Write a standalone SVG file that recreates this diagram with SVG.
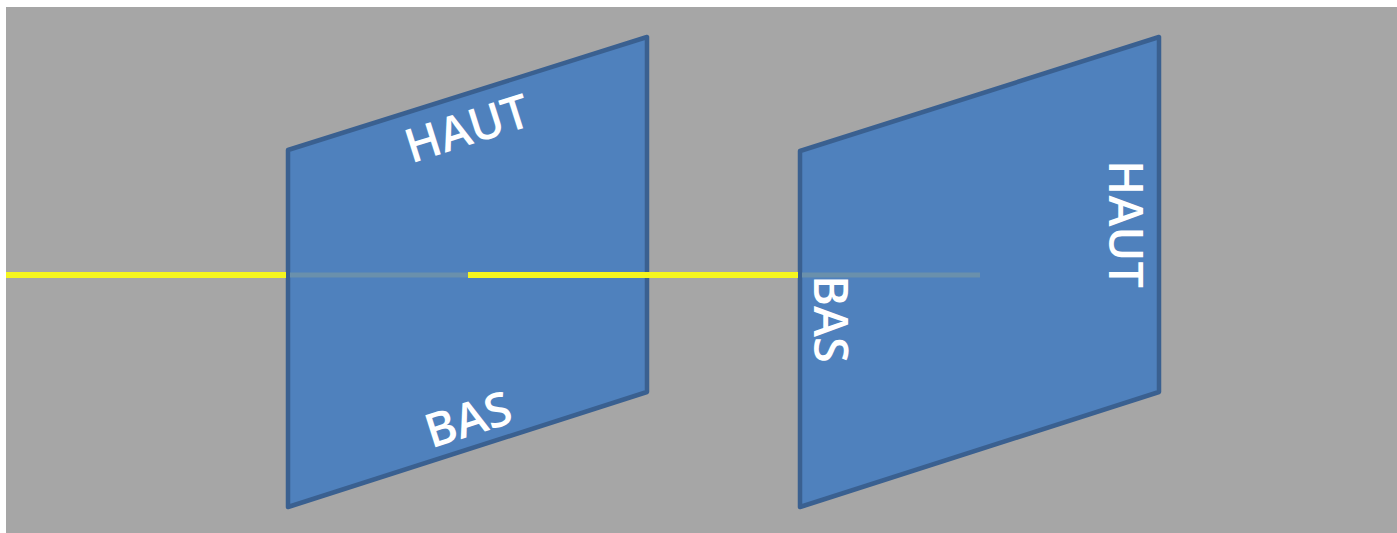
<svg xmlns="http://www.w3.org/2000/svg" width="1397" height="533" viewBox="0 0 1397 533">
<style>
.panel{fill:#4F81BD;stroke:#3A6090;stroke-width:4.5;stroke-linejoin:round}
.lbl{font-family:"Open Sans","Liberation Sans",sans-serif;font-size:47px;font-weight:600;fill:#FFFFFF;text-anchor:middle}
.ray{stroke:#F5F51E;stroke-width:6;fill:none}
.ray-hidden{stroke:#6A90AC;stroke-width:5;fill:none}
</style>
<rect x="0" y="0" width="1397" height="533" fill="#FFFFFF"/>
<rect x="6" y="7" width="1391" height="526" fill="#A6A6A6"/>
<g id="panel-1">
<polygon class="panel" points="288,150 647,37 647,392 288,507"/>
<text class="lbl" transform="translate(467,128) rotate(-17.6)" x="0" y="17">HAUT</text>
<text class="lbl" transform="translate(468,419) rotate(-17.6)" x="0" y="17">BAS</text>
</g>
<g id="panel-2">
<polygon class="panel" points="800,151 1159,37 1159,392 800,507"/>
<text class="lbl" transform="translate(1126,224) rotate(90)" x="0" y="17">HAUT</text>
<text class="lbl" transform="translate(831,319) rotate(90)" x="0" y="17">BAS</text>
</g>
<g id="connectors">
<line class="ray" x1="6" y1="275" x2="286" y2="275"/>
<line class="ray-hidden" x1="290" y1="275" x2="468" y2="275"/>
<line class="ray" x1="468" y1="275" x2="798" y2="275"/>
<line class="ray-hidden" x1="802" y1="275" x2="980" y2="275"/>
</g>
</svg>
